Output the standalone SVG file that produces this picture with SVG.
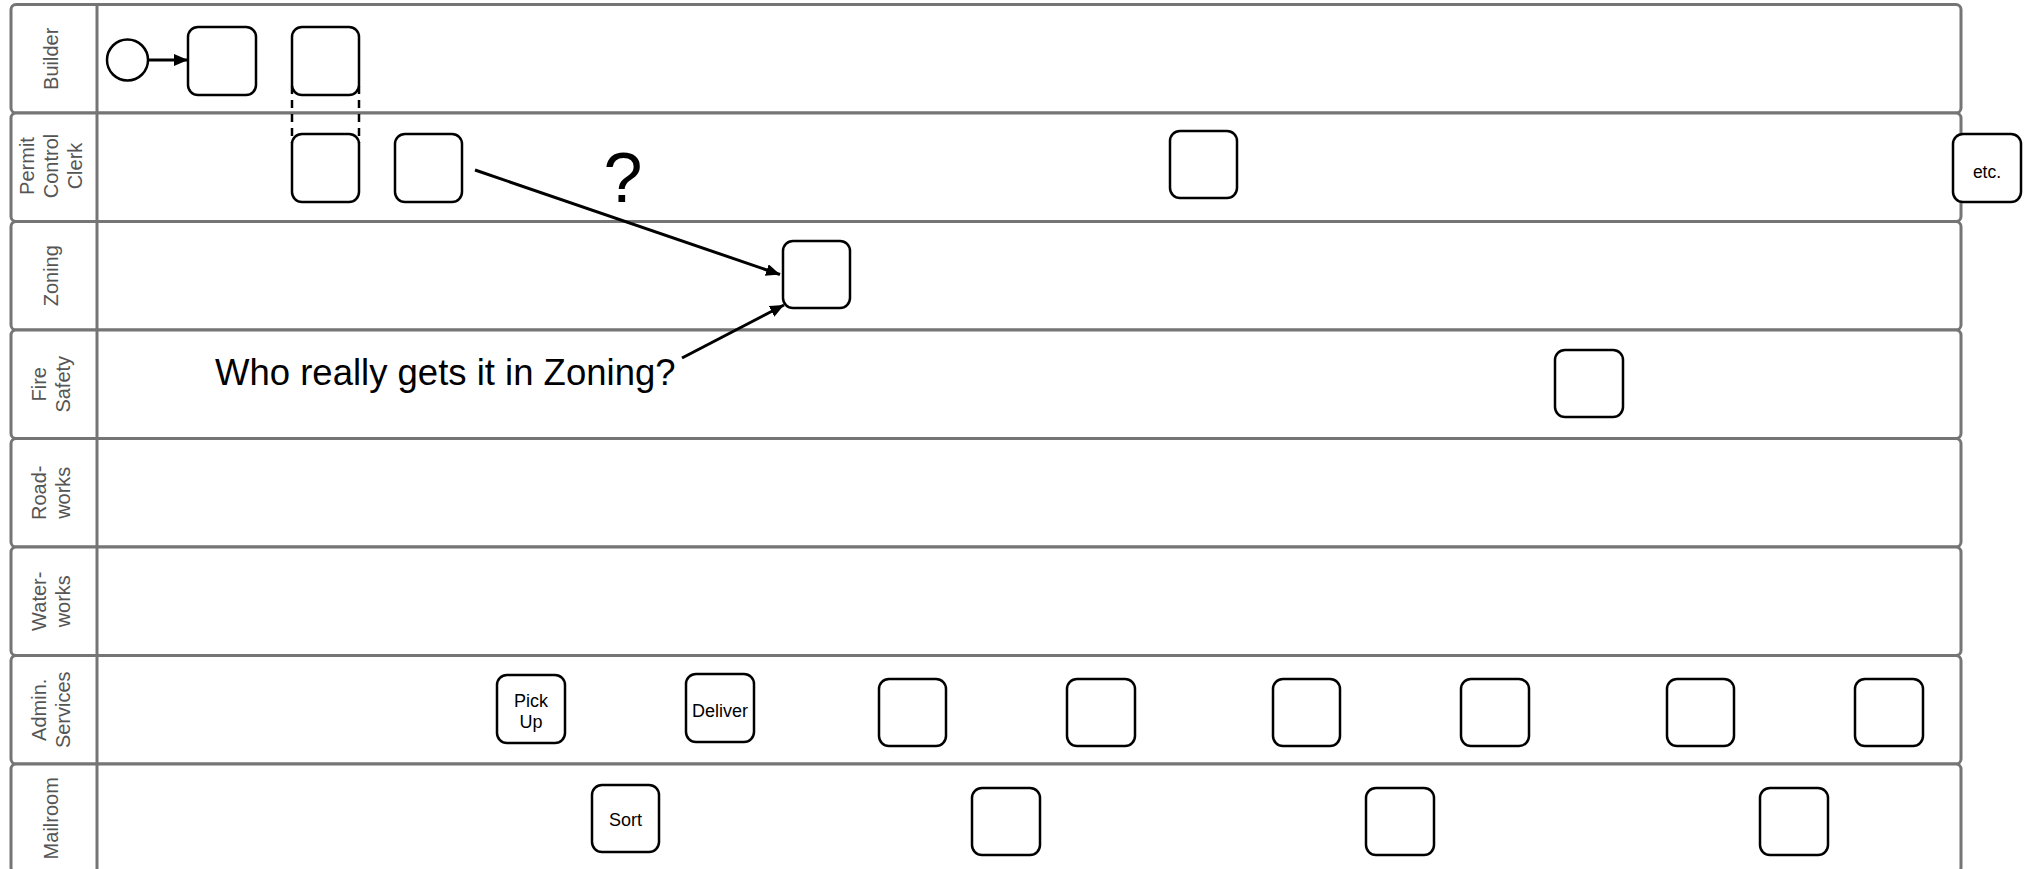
<svg xmlns="http://www.w3.org/2000/svg" width="2029" height="869" viewBox="0 0 2029 869">
<style>
.lane{fill:#fff;stroke:#757575;stroke-width:3}
.div{stroke:#757575;stroke-width:3}
.hdr{font-family:"Liberation Sans",Arial,sans-serif;font-size:20px;fill:#555;text-anchor:middle}
.task{fill:#fff;stroke:#000;stroke-width:2.5}
.tt{font-family:"Liberation Sans",Arial,sans-serif;font-size:18px;fill:#000;text-anchor:middle}
.flow{stroke:#000;stroke-width:3;fill:none}
.dash{stroke:#000;stroke-width:2.5;stroke-dasharray:8 6;fill:none}
.lbl{font-family:"Liberation Sans",Arial,sans-serif;fill:#000}
</style>
<defs>
<marker id="ah" markerUnits="userSpaceOnUse" markerWidth="16" markerHeight="14" refX="14" refY="6" orient="auto">
<path d="M0,0 L14,6 L0,12 z" fill="#000"/>
</marker>
</defs>
<rect width="2029" height="869" fill="#fff"/>
<g id="lanes">
<g id="lane-builder"><rect class="lane" x="11" y="4.5" width="1950" height="108.5" rx="5"/><line class="div" x1="97" y1="4.5" x2="97" y2="113"/><text class="hdr" transform="translate(58,58.75) rotate(-90)">Builder</text></g>
<g id="lane-permit"><rect class="lane" x="11" y="113" width="1950" height="108.5" rx="5"/><line class="div" x1="97" y1="113" x2="97" y2="221.5"/><text class="hdr" transform="translate(34,166) rotate(-90)">Permit</text><text class="hdr" transform="translate(58,166) rotate(-90)">Control</text><text class="hdr" transform="translate(82,166) rotate(-90)">Clerk</text></g>
<g id="lane-zoning"><rect class="lane" x="11" y="221.5" width="1950" height="108.5" rx="5"/><line class="div" x1="97" y1="221.5" x2="97" y2="330"/><text class="hdr" transform="translate(58,275.75) rotate(-90)">Zoning</text></g>
<g id="lane-fire"><rect class="lane" x="11" y="330" width="1950" height="108.5" rx="5"/><line class="div" x1="97" y1="330" x2="97" y2="438.5"/><text class="hdr" transform="translate(46,384.25) rotate(-90)">Fire</text><text class="hdr" transform="translate(70,384.25) rotate(-90)">Safety</text></g>
<g id="lane-road"><rect class="lane" x="11" y="438.5" width="1950" height="108.5" rx="5"/><line class="div" x1="97" y1="438.5" x2="97" y2="547"/><text class="hdr" transform="translate(46,492.75) rotate(-90)">Road-</text><text class="hdr" transform="translate(70,492.75) rotate(-90)">works</text></g>
<g id="lane-water"><rect class="lane" x="11" y="547" width="1950" height="108.5" rx="5"/><line class="div" x1="97" y1="547" x2="97" y2="655.5"/><text class="hdr" transform="translate(46,601.25) rotate(-90)">Water-</text><text class="hdr" transform="translate(70,601.25) rotate(-90)">works</text></g>
<g id="lane-admin"><rect class="lane" x="11" y="655.5" width="1950" height="108.5" rx="5"/><line class="div" x1="97" y1="655.5" x2="97" y2="764"/><text class="hdr" transform="translate(46,709.75) rotate(-90)">Admin.</text><text class="hdr" transform="translate(70,709.75) rotate(-90)">Services</text></g>
<g id="lane-mail"><rect class="lane" x="11" y="764" width="1950" height="108.5" rx="5"/><line class="div" x1="97" y1="764" x2="97" y2="873"/><text class="hdr" transform="translate(58,818.25) rotate(-90)">Mailroom</text></g>
</g>
<g id="connectors">
<line class="flow" x1="148" y1="60" x2="188" y2="60" marker-end="url(#ah)"/>
<line class="dash" x1="292" y1="86" x2="292" y2="143"/>
<line class="dash" x1="359" y1="86" x2="359" y2="143"/>
<line class="flow" x1="475" y1="170" x2="780" y2="274.5" marker-end="url(#ah)"/>
<line class="flow" x1="682" y1="358" x2="784" y2="305" marker-end="url(#ah)"/>
</g>
<g id="start"><circle cx="127.5" cy="60" r="20.5" fill="#fff" stroke="#000" stroke-width="2.5"/></g>
<g id="b1"><rect class="task" x="188" y="27" width="68" height="68" rx="10"/></g>
<g id="b2"><rect class="task" x="292" y="27" width="67" height="68" rx="10"/></g>
<g id="p1"><rect class="task" x="292" y="134" width="67" height="68" rx="10"/></g>
<g id="p2"><rect class="task" x="395" y="134" width="67" height="68" rx="10"/></g>
<g id="p3"><rect class="task" x="1170" y="131" width="67" height="67" rx="10"/></g>
<g id="p4"><rect class="task" x="1953" y="134" width="68" height="68" rx="10"/><text class="tt" x="1987" y="177.5" style="font-size:17.5px">etc.</text></g>
<g id="z1"><rect class="task" x="783" y="241" width="67" height="67" rx="10"/></g>
<g id="f1"><rect class="task" x="1555" y="350" width="68" height="67" rx="10"/></g>
<g id="a1"><rect class="task" x="497" y="675" width="68" height="68" rx="10"/><text class="tt" x="531" y="707">Pick</text><text class="tt" x="531" y="728">Up</text></g>
<g id="a2"><rect class="task" x="686" y="674" width="68" height="68" rx="10"/><text class="tt" x="720" y="717">Deliver</text></g>
<g id="a3"><rect class="task" x="879" y="679" width="67" height="67" rx="10"/></g>
<g id="a4"><rect class="task" x="1067" y="679" width="68" height="67" rx="10"/></g>
<g id="a5"><rect class="task" x="1273" y="679" width="67" height="67" rx="10"/></g>
<g id="a6"><rect class="task" x="1461" y="679" width="68" height="67" rx="10"/></g>
<g id="a7"><rect class="task" x="1667" y="679" width="67" height="67" rx="10"/></g>
<g id="a8"><rect class="task" x="1855" y="679" width="68" height="67" rx="10"/></g>
<g id="m1"><rect class="task" x="592" y="785" width="67" height="67" rx="10"/><text class="tt" x="625.5" y="826">Sort</text></g>
<g id="m2"><rect class="task" x="972" y="788" width="68" height="67" rx="10"/></g>
<g id="m3"><rect class="task" x="1366" y="788" width="68" height="67" rx="10"/></g>
<g id="m4"><rect class="task" x="1760" y="788" width="68" height="67" rx="10"/></g>
<g id="labels">
<text class="lbl" x="623" y="202" font-size="70" text-anchor="middle">?</text>
<text class="lbl" x="215" y="385" font-size="36.5">Who really gets it in Zoning?</text>
</g>
</svg>
